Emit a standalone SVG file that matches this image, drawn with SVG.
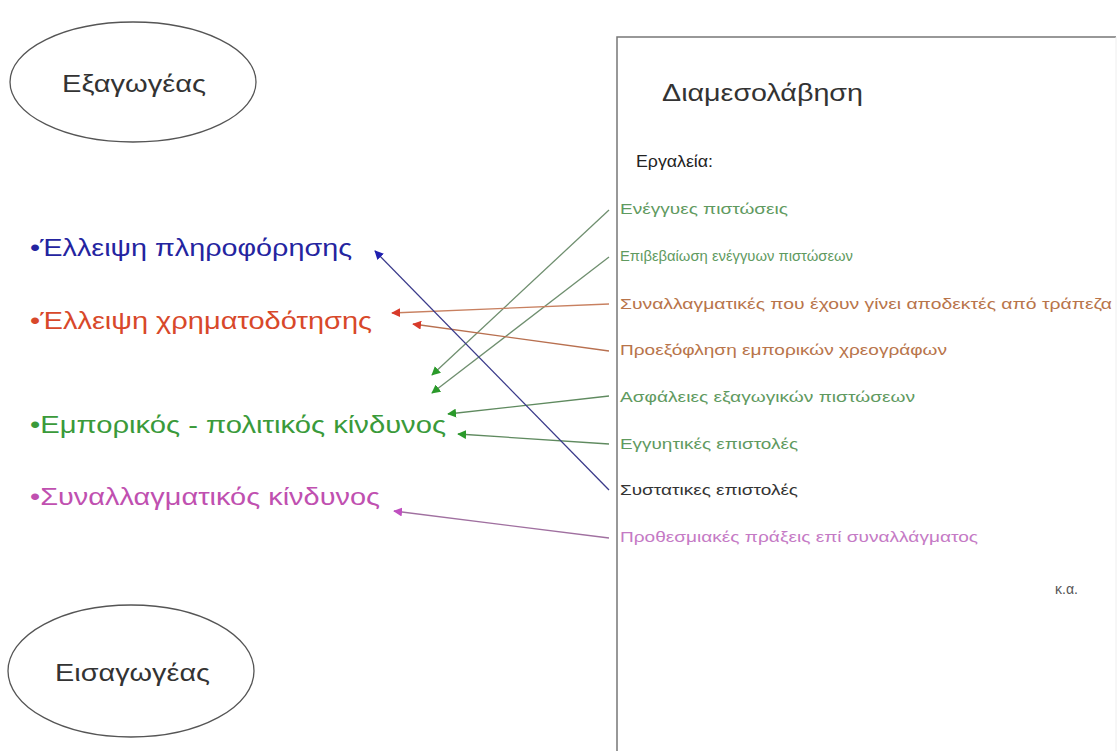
<svg xmlns="http://www.w3.org/2000/svg" width="1119" height="751" viewBox="0 0 1119 751">
<style>
.bg{fill:#fff}
.ell{fill:#fff;stroke:#555;stroke-width:1.3}
.edge{stroke:#777;stroke-width:1.5;fill:none}
.big{font-family:"Liberation Sans","DejaVu Sans",sans-serif;font-size:23px}
.node{font-family:"Liberation Sans","DejaVu Sans",sans-serif;font-size:24px;fill:#333}
.item{font-family:"Liberation Sans","DejaVu Sans",sans-serif;font-size:14px}
.g{fill:#5f9a5f}.o{fill:#b8744a}.k{fill:#333}.p{fill:#c57ac5}
.conn line{stroke-width:1.3;fill:none}
</style>
<defs>
<marker id="mb" viewBox="0 0 10 10" refX="9" refY="5" markerWidth="9" markerHeight="9" markerUnits="userSpaceOnUse" orient="auto"><path d="M0,0L10,5L0,10z" fill="#1f1fb0"/></marker>
<marker id="mr" viewBox="0 0 10 10" refX="9" refY="5" markerWidth="9" markerHeight="9" markerUnits="userSpaceOnUse" orient="auto"><path d="M0,0L10,5L0,10z" fill="#d83a2a"/></marker>
<marker id="mg" viewBox="0 0 10 10" refX="9" refY="5" markerWidth="9" markerHeight="9" markerUnits="userSpaceOnUse" orient="auto"><path d="M0,0L10,5L0,10z" fill="#2a9a2a"/></marker>
<marker id="mp" viewBox="0 0 10 10" refX="9" refY="5" markerWidth="9" markerHeight="9" markerUnits="userSpaceOnUse" orient="auto"><path d="M0,0L10,5L0,10z" fill="#c050c0"/></marker>
</defs>
<rect class="bg" x="0" y="0" width="1119" height="751"/>

<g id="box-diamesolavisi">
<path class="edge" d="M617,751V37H1116"/>
<path d="M1116,37V751" stroke="#eee" stroke-width="1" fill="none"/>
<text class="node" x="662" y="101" textLength="201" lengthAdjust="spacingAndGlyphs">Διαμεσολάβηση</text>
<text x="636" y="167" font-family="Liberation Sans, DejaVu Sans, sans-serif" font-size="16" fill="#222" textLength="77" lengthAdjust="spacingAndGlyphs">Εργαλεία:</text>
<text class="item g" x="620" y="214" textLength="168" lengthAdjust="spacingAndGlyphs">Ενέγγυες πιστώσεις</text>
<text class="item g" x="620" y="261" textLength="233" lengthAdjust="spacingAndGlyphs">Επιβεβαίωση ενέγγυων πιστώσεων</text>
<text class="item o" x="620" y="309" textLength="492" lengthAdjust="spacingAndGlyphs">Συναλλαγματικές που έχουν γίνει αποδεκτές από τράπεζα</text>
<text class="item o" x="620" y="355" textLength="327" lengthAdjust="spacingAndGlyphs">Προεξόφληση εμπορικών χρεογράφων</text>
<text class="item g" x="620" y="402" textLength="295" lengthAdjust="spacingAndGlyphs">Ασφάλειες εξαγωγικών πιστώσεων</text>
<text class="item g" x="620" y="449" textLength="178" lengthAdjust="spacingAndGlyphs">Εγγυητικές επιστολές</text>
<text class="item k" x="620" y="495" textLength="178" lengthAdjust="spacingAndGlyphs">Συστατικες επιστολές</text>
<text class="item p" x="620" y="542" textLength="358" lengthAdjust="spacingAndGlyphs">Προθεσμιακές πράξεις επί συναλλάγματος</text>
<text class="item" x="1055" y="594" fill="#555" textLength="23" lengthAdjust="spacingAndGlyphs">κ.α.</text>
</g>

<g id="node-exagogeas">
<ellipse class="ell" cx="133" cy="82" rx="123" ry="60"/>
<text class="node" x="62" y="92" textLength="144" lengthAdjust="spacingAndGlyphs">Εξαγωγέας</text>
</g>

<g id="node-eisagogeas">
<ellipse class="ell" cx="131" cy="671" rx="123" ry="66"/>
<text class="node" x="55" y="681" textLength="155" lengthAdjust="spacingAndGlyphs">Εισαγωγέας</text>
</g>

<g id="risk-pliroforisi"><text class="big" x="30" y="256" fill="#2424a0" textLength="322" lengthAdjust="spacingAndGlyphs">•Έλλειψη πληροφόρησης</text></g>
<g id="risk-xrimatodotisi"><text class="big" x="30" y="329" fill="#d8482a" textLength="342" lengthAdjust="spacingAndGlyphs">•Έλλειψη χρηματοδότησης</text></g>
<g id="risk-emporikos"><text class="big" x="30" y="433" fill="#3a9a3a" textLength="416" lengthAdjust="spacingAndGlyphs">•Εμπορικός - πολιτικός κίνδυνος</text></g>
<g id="risk-synallagmatikos"><text class="big" x="30" y="505" fill="#c050b0" textLength="350" lengthAdjust="spacingAndGlyphs">•Συναλλαγματικός κίνδυνος</text></g>

<g id="connectors" class="conn">
<line x1="609" y1="210" x2="432" y2="375" stroke="#6f8f6f" marker-end="url(#mg)"/>
<line x1="609" y1="257" x2="432" y2="393" stroke="#6f8f6f" marker-end="url(#mg)"/>
<line x1="609" y1="304" x2="392" y2="313" stroke="#c88060" marker-end="url(#mr)"/>
<line x1="609" y1="351" x2="413" y2="324" stroke="#b87050" marker-end="url(#mr)"/>
<line x1="609" y1="396" x2="448" y2="414" stroke="#5f8a5f" marker-end="url(#mg)"/>
<line x1="609" y1="444" x2="458" y2="434" stroke="#5f8a5f" marker-end="url(#mg)"/>
<line x1="609" y1="490" x2="375" y2="251" stroke="#3a3a8a" marker-end="url(#mb)"/>
<line x1="609" y1="538" x2="394" y2="511" stroke="#a070a0" marker-end="url(#mp)"/>
</g>
</svg>
